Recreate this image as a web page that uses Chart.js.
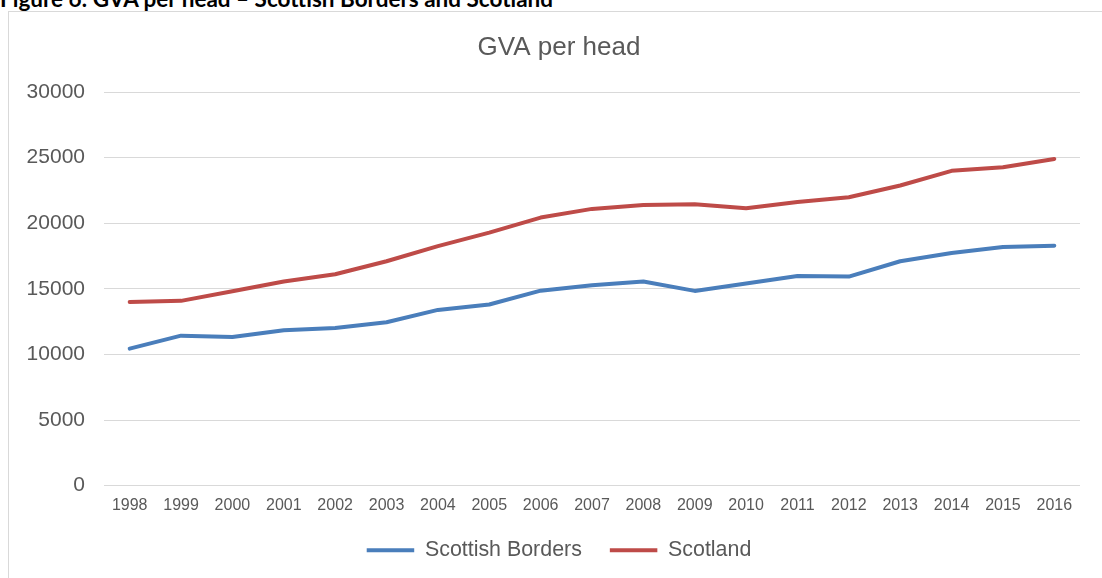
<!DOCTYPE html>
<html>
<head>
<meta charset="utf-8">
<script src="https://cdn.jsdelivr.net/npm/chart.js@4/dist/chart.umd.min.js"></script>
<style>
  html, body { margin: 0; padding: 0; background: #ffffff; overflow: hidden; width: 1102px; height: 578px; }
  #caption { position: absolute; left: 0; top: -12px; font-family: Lato, "Noto Sans", sans-serif; font-weight: bold; font-size: 22.5px; line-height: 22px; color: #000; white-space: nowrap; }
  #box { position: absolute; left: 8px; top: 11px; width: 1300px; height: 800px; border: 1px solid #d9d9d9; box-sizing: border-box; }
  #wrap { position: absolute; left: 0; top: 0; width: 1118px; height: 578px; }
</style>
</head>
<body>
<div id="caption">Figure 6: GVA per head – Scottish Borders and Scotland</div>
<div id="box"></div>
<div id="wrap"><canvas id="c" width="1118" height="578"></canvas></div>
<script>
const years = ["1998","1999","2000","2001","2002","2003","2004","2005","2006","2007","2008","2009","2010","2011","2012","2013","2014","2015","2016"];
const scottishBorders = [10440, 11430, 11330, 11840, 12020, 12450, 13390, 13800, 14860, 15270, 15550, 14840, 15400, 15980, 15930, 17100, 17730, 18190, 18290];
const scotland = [14000, 14080, 14810, 15550, 16110, 17100, 18250, 19280, 20430, 21090, 21390, 21440, 21140, 21620, 21980, 22870, 23990, 24260, 24900];
const seriesNames = ["Scottish Borders", "Scotland"];
const chartTitle = "GVA per head";
const yTicks = [0, 5000, 10000, 15000, 20000, 25000, 30000];

const textColor = "#595959";
const gridColor = "#d9d9d9";
const fontFamily = "'Liberation Sans', Arial, sans-serif";

new Chart(document.getElementById("c"), {
  type: "line",
  data: {
    labels: years,
    datasets: [
      { label: seriesNames[0], data: scottishBorders, borderColor: "#4a7ebb", backgroundColor: "#4a7ebb", borderWidth: 4, pointRadius: 0, tension: 0, borderCapStyle: "round", borderJoinStyle: "round" },
      { label: seriesNames[1], data: scotland, borderColor: "#be4b48", backgroundColor: "#be4b48", borderWidth: 4, pointRadius: 0, tension: 0, borderCapStyle: "round", borderJoinStyle: "round" }
    ]
  },
  options: {
    responsive: false,
    animation: false,
    layout: { padding: { left: 0, right: 0, top: 0, bottom: 7 } },
    plugins: {
      tooltip: { enabled: false },
      title: {
        display: true,
        text: chartTitle,
        color: textColor,
        font: { family: fontFamily, size: 26, weight: "normal", lineHeight: 1.2 },
        padding: { top: 32.4, bottom: 28.4 }
      },
      legend: {
        position: "bottom",
        labels: {
          color: textColor,
          font: { family: fontFamily, size: 21.4 },
          usePointStyle: true,
          pointStyle: "line",
          pointStyleWidth: 47.5,
          padding: 28
        }
      }
    },
    scales: {
      x: {
        offset: true,
        grid: { display: false, drawTicks: false },
        border: { display: false },
        ticks: { color: textColor, font: { family: fontFamily, size: 16, lineHeight: 1 }, padding: 11.5, maxRotation: 0, autoSkip: false },
        afterFit: (s) => { s.height = 26; }
      },
      y: {
        min: 0,
        max: 30000,
        afterBuildTicks: (s) => { s.ticks = yTicks.map(v => ({ value: v })); },
        grid: { color: gridColor, lineWidth: 1, drawTicks: false },
        border: { display: false },
        ticks: { color: textColor, font: { family: fontFamily, size: 21 }, padding: 19, callback: (v) => String(v) },
        afterFit: (s) => { s.width = 104; }
      },
      spacer: {
        type: "linear",
        position: "right",
        display: true,
        min: 0,
        max: 30000,
        grid: { display: false, drawTicks: false },
        border: { display: false },
        ticks: { display: false },
        afterFit: (s) => { s.width = 38; }
      }
    }
  }
});
</script>
</body>
</html>
